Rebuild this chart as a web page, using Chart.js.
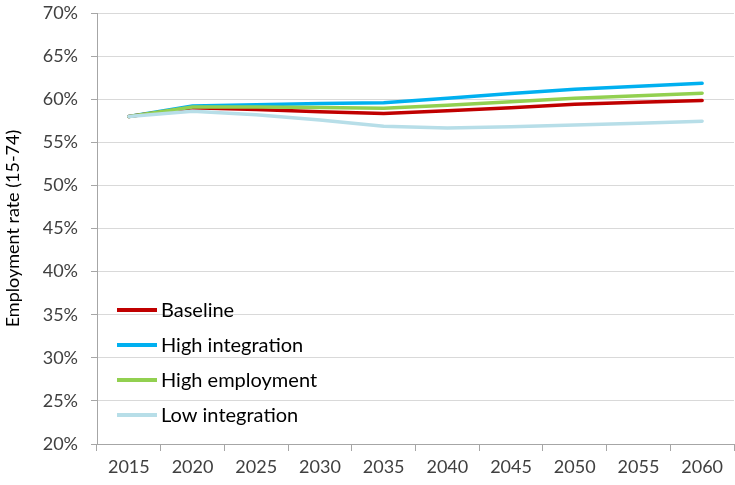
<!DOCTYPE html>
<html>
<head>
<meta charset="utf-8">
<script src="https://cdn.jsdelivr.net/npm/chart.js@4"></script>
<style>
  html, body { margin: 0; padding: 0; background: #fff; }
  #wrap { width: 735px; height: 485px; }
</style>
</head>
<body>
<div id="wrap"><canvas id="c" width="735" height="485"></canvas></div>
<script>
const years = ['2015','2020','2025','2030','2035','2040','2045','2050','2055','2060'];
const baseline        = [58.0, 59.0, 58.8, 58.55, 58.35, 58.65, 59.0, 59.4, 59.65, 59.85];
const highIntegration = [58.0, 59.2, 59.35, 59.5, 59.6, 60.1, 60.65, 61.15, 61.5, 61.85];
const highEmployment  = [58.0, 59.1, 59.1, 59.05, 58.95, 59.3, 59.7, 60.1, 60.4, 60.7];
const lowIntegration  = [58.0, 58.6, 58.2, 57.6, 56.85, 56.65, 56.8, 57.0, 57.2, 57.45];
const seriesNames = ['Baseline','High integration','High employment','Low integration'];
const yTicks = { min: 20, max: 70, step: 5 };
const yTitle = 'Employment rate (15-74)';

const colors = ['#C00000','#00B0F0','#92D050','#B7DEE8'];
const FONT = 'Lato';

const mk = (label, data, color) => ({
  label, data,
  borderColor: color,
  backgroundColor: color,
  borderWidth: 3.5,
  pointRadius: 0,
  tension: 0,
  fill: false,
  borderCapStyle: 'round',
  borderJoinStyle: 'round'
});

const insideLegend = {
  id: 'insideLegend',
  afterDraw(chart) {
    const ctx = chart.ctx;
    const x0 = chart.chartArea.left + 20;
    let y = 310;
    ctx.save();
    seriesNames.forEach((name) => {
      const ds = chart.data.datasets.find(d => d.label === name);
      ctx.strokeStyle = ds.borderColor;
      ctx.lineWidth = 4;
      ctx.beginPath();
      ctx.moveTo(x0, y);
      ctx.lineTo(x0 + 40, y);
      ctx.stroke();
      ctx.fillStyle = '#000';
      ctx.font = '20px ' + FONT;
      ctx.textBaseline = 'middle';
      ctx.textAlign = 'left';
      ctx.fillText(ds.label, x0 + 44, y + 1);
      y += 35;
    });
    ctx.restore();
  }
};

new Chart(document.getElementById('c'), {
  type: 'line',
  data: {
    labels: years,
    datasets: [
      mk(seriesNames[3], lowIntegration, colors[3]),
      mk(seriesNames[2], highEmployment, colors[2]),
      mk(seriesNames[0], baseline, colors[0]),
      mk(seriesNames[1], highIntegration, colors[1])
    ]
  },
  options: {
    responsive: false,
    animation: false,
    layout: { padding: { top: 13, right: 1, left: 0, bottom: 0 } },
    plugins: { legend: { display: false }, tooltip: { enabled: false } },
    scales: {
      x: {
        type: 'category',
        offset: true,
        grid: { display: true, drawOnChartArea: false, offset: true, tickLength: 7, tickColor: '#a6a6a6' },
        border: { display: true, color: '#a6a6a6', width: 1 },
        ticks: { color: '#404040', font: { family: FONT, size: 18 }, padding: 5, maxRotation: 0 },
        afterFit(s) { s.height = 41; s.paddingLeft = 0; s.paddingRight = 0; }
      },
      y: {
        min: yTicks.min, max: yTicks.max,
        grid: { color: '#d9d9d9', tickLength: 6, tickColor: '#a6a6a6' },
        border: { display: true, color: '#a6a6a6', width: 1 },
        ticks: { stepSize: yTicks.step, color: '#404040', font: { family: FONT, size: 18 }, padding: 13,
                 callback: v => v + '%' },
        title: { display: true, text: yTitle, color: '#000', font: { family: FONT, size: 18 }, padding: { top: 2, bottom: 6 } },
        afterFit(s) { s.width = 97; s.paddingTop = 0; s.paddingBottom = 0; }
      }
    }
  },
  plugins: [insideLegend]
});
</script>
</body>
</html>
